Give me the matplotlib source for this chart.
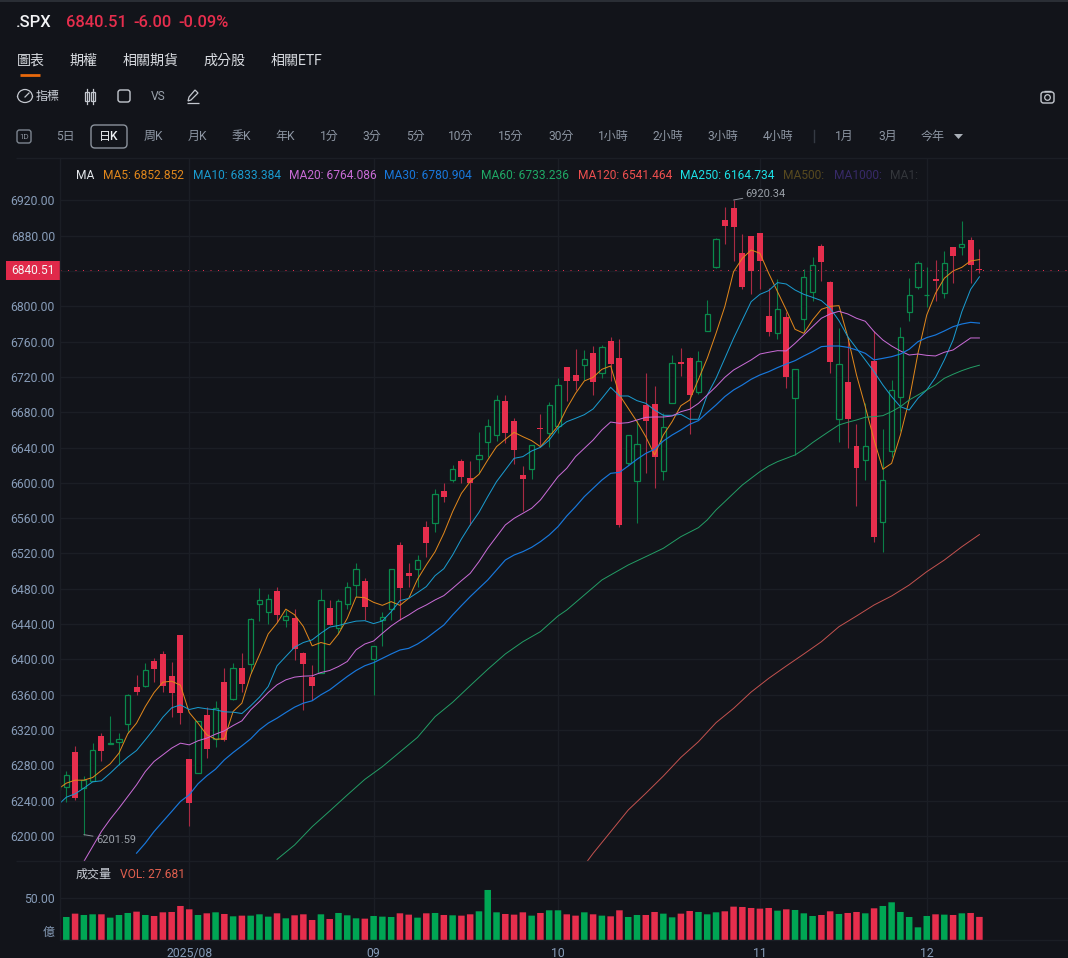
import numpy as np
import matplotlib
matplotlib.use('Agg')
import matplotlib.pyplot as plt
from matplotlib.patches import Rectangle, FancyBboxPatch, Circle, Arc, Polygon

plt.rcParams['font.family'] = ['Roboto', 'Noto Sans CJK TC', 'DejaVu Sans']

# candles, index -1 is the one cut off by the price axis
opens = [6252, 6255.4, 6295.4, 6253.9, 6262.9, 6313.1, 6304.1, 6306, 6327.1, 6369, 6369.4,
         6398.1, 6406.4, 6381.5, 6427.5, 6287.5, 6271.2, 6336.9, 6309.7, 6374.7, 6355,
         6390.2, 6395, 6462.3, 6453.6, 6477.4, 6444.9, 6446.4, 6406.8, 6380.7, 6385.2,
         6458.1, 6435.5, 6463, 6484.5, 6489.2, 6400.9, 6444.7, 6456.8, 6529.6, 6498.3,
         6502.8, 6550.4, 6554.2, 6590.8, 6602.9, 6624.4, 6605.1, 6626.7, 6646.7, 6654.2,
         6692.3, 6669.7, 6608.5, 6615.3, 6662, 6656.1, 6664.8, 6731.6, 6722.5, 6733.9,
         6746.7, 6724, 6761, 6741, 6622.1, 6602.5, 6688.2, 6689.3, 6613.5, 6690.1,
         6736.9, 6741.4, 6703.3, 6772, 6844.9, 6898.1, 6911.3, 6860.7, 6879.6, 6883,
         6789, 6769.4, 6787.9, 6696.1, 6785.2, 6815.8, 6868.3, 6827.1, 6672, 6713.9,
         6641.8, 6625.9, 6738, 6555.7, 6636.5, 6696.9, 6793.5, 6821.8, 6812.4, 6831.3,
         6815.4, 6866.8, 6866.8, 6875.4, 6841.5]
highs = [6262, 6273.9, 6302.2, 6268.2, 6305.2, 6316.2, 6336.5, 6316.5, 6360.7, 6381.9, 6396.2,
         6401.5, 6409.8, 6397.3, 6427.5, 6287.5, 6330.1, 6346.7, 6353.2, 6390.5, 6395.8,
         6407.5, 6446.4, 6480.8, 6474.3, 6481.9, 6455.5, 6457, 6408.3, 6393.9, 6479.6,
         6467.5, 6468.7, 6487.5, 6509, 6491.9, 6415.6, 6454, 6502, 6533, 6508.9,
         6518.7, 6556.4, 6593, 6600.2, 6620.2, 6627.4, 6624.8, 6657.2, 6672, 6699.5,
         6699.5, 6673, 6619.5, 6643.3, 6678, 6691.6, 6718.8, 6731.6, 6751.6, 6750.5,
         6755, 6756, 6765.2, 6763, 6654.6, 6671, 6724.8, 6709.7, 6678.8, 6744.8,
         6752.4, 6742, 6749.7, 6807.1, 6877.7, 6912, 6920.34, 6881.5, 6879.6, 6883,
         6820.3, 6830.5, 6793.9, 6729, 6841.9, 6855.4, 6870.5, 6828.6, 6775, 6765.6,
         6666.7, 6690.1, 6772, 6660.7, 6716.1, 6776.9, 6831.7, 6850.9, 6844.1, 6852.4,
         6863, 6866.8, 6896.2, 6878.8, 6865.3]
lows = [6248, 6238.4, 6241.4, 6201.59, 6261.8, 6284.5, 6304, 6280.7, 6316.5, 6360.3, 6368.3,
        6375, 6363.7, 6335.4, 6327.1, 6211.6, 6271.2, 6288.2, 6300.3, 6308, 6354,
        6363.4, 6384.5, 6444, 6440.4, 6441.9, 6437.3, 6399.6, 6343, 6354.3, 6384.5,
        6438.9, 6429, 6457, 6471.3, 6444.7, 6359.8, 6415.3, 6444.7, 6444.7, 6482.5,
        6482.5, 6515.7, 6544.7, 6578.3, 6601.4, 6599.5, 6552.3, 6610.8, 6629.7, 6647.8,
        6644.8, 6621.4, 6568.5, 6604, 6642.5, 6640.2, 6656, 6692.7, 6705, 6716.5,
        6699.5, 6718.4, 6715.7, 6550, 6620, 6554.9, 6611.6, 6593.8, 6603.2, 6690,
        6721.4, 6655.3, 6700.7, 6772, 6843.7, 6870.5, 6851.7, 6820, 6813.9, 6820,
        6766, 6763, 6707, 6631.6, 6771.3, 6806.4, 6829, 6724.1, 6646.7, 6639.1,
        6574.2, 6603.3, 6533.4, 6521.4, 6629.7, 6659, 6783.3, 6819.2, 6799.6, 6806.4,
        6809.8, 6826.8, 6858.5, 6826.8, 6838]
closes = [6260, 6268.6, 6243.3, 6263.7, 6297.3, 6296.5, 6305.6, 6309.7, 6359.6, 6363, 6388.6,
          6389.4, 6370.5, 6362.2, 6339.2, 6237.6, 6330.1, 6298.8, 6344.9, 6309, 6389.8,
          6372.4, 6446, 6466.8, 6468.3, 6449.8, 6449.4, 6411.7, 6395.4, 6369.8, 6466.8,
          6439.2, 6465.7, 6481.5, 6502.3, 6459.8, 6415.6, 6448.4, 6502, 6481.3, 6494.5,
          6512.3, 6531.5, 6587.4, 6584, 6615.3, 6606.3, 6600.2, 6631.9, 6664.4, 6693.5,
          6656.5, 6637.6, 6604.8, 6643.3, 6660.6, 6688.2, 6711.2, 6715, 6715.7, 6740.3,
          6714.2, 6754.2, 6735, 6551.9, 6654.6, 6644.4, 6670, 6628.9, 6663.7, 6735.4,
          6735, 6699.1, 6738.4, 6791.7, 6875.8, 6890.9, 6890.2, 6821.5, 6840, 6851.7,
          6771.3, 6796.6, 6720.3, 6729, 6832.8, 6846.8, 6850.5, 6737.3, 6734.3, 6672,
          6617.2, 6642.2, 6538.3, 6602.9, 6704.8, 6765.6, 6812.4, 6849.4, 6813.2, 6829,
          6849.4, 6857, 6870.5, 6846.51, 6840.51]
volumes = [27, 27.6, 31.6, 30, 30.8, 30.8, 26.8, 30, 32.4, 34, 30,
           28.8, 33.2, 33.6, 40.8, 36.8, 30, 32, 33.2, 31.2, 28.4,
           29.2, 29.2, 30.8, 28, 32, 26, 29.6, 30.8, 24, 30.8,
           25.2, 32.4, 29.6, 26, 25.6, 28.8, 28, 27.6, 32, 30.4,
           26.8, 32, 32.4, 30, 29.6, 29.2, 30.8, 34.4, 60, 33.2,
           31.2, 30.4, 33.2, 29.2, 32.4, 35.6, 35.6, 30.8, 29.2, 33.2,
           30.8, 29.2, 28.4, 35.6, 27.6, 30, 30, 33.6, 31.6, 27.2,
           31.6, 34.8, 33.6, 30.8, 33.2, 34.4, 40, 39.6, 38.4, 37.6,
           38.4, 35.2, 36.8, 36, 32, 28.8, 30, 34.4, 31.2, 32.4,
           33.6, 32, 38, 40.8, 45.2, 33.6, 27.6, 15.2, 28.8, 30.8,
           30.4, 30, 32, 32.4, 27.68]

# moving averages
ma5 = [6252.7, 6259.9, 6263.3, 6263.3, 6266.3, 6274.3, 6281.8, 6293.9, 6315.8, 6327.9, 6346.7,
       6362.6, 6374.3, 6375.4, 6370.9, 6339.9, 6327.9, 6314.7, 6309.7, 6310.1, 6341.1,
       6350.5, 6382.6, 6405.3, 6429, 6441.1, 6457, 6450.6, 6437.3, 6415.4, 6419.2,
       6416.6, 6429, 6446.6, 6470.7, 6470, 6464.7, 6461.3, 6465.5, 6461.3, 6469.2,
       6490.8, 6507, 6522, 6542.9, 6567.4, 6588.1, 6601.4, 6609.7, 6625.9, 6641,
       6649.3, 6657.2, 6652.3, 6647.8, 6641, 6652.3, 6664.4, 6684.4, 6701.4, 6715.4,
       6719.5, 6728.6, 6732.4, 6699.5, 6684.4, 6669.3, 6652.3, 6631.6, 6654.2, 6669.3,
       6687.4, 6693.8, 6717.3, 6741, 6769.4, 6799.6, 6839.2, 6854.3, 6863.7, 6860,
       6837.3, 6816.6, 6795.8, 6773.9, 6769.4, 6784.5, 6796.6, 6799.9, 6800.7, 6765.6,
       6722.2, 6686.3, 6648.6, 6615.4, 6622.1, 6654.2, 6693.9, 6746.7, 6790.1, 6814.7,
       6831.7, 6840, 6844.1, 6851.3, 6852.85]
ma10 = [6234.6, 6244, 6247.8, 6254.3, 6261.4, 6262.6, 6271.2, 6280.7, 6289.4, 6296.9, 6309,
        6321.4, 6334.7, 6345.2, 6348.6, 6343.3, 6345.6, 6344.1, 6343, 6340.7, 6340.3,
        6338.8, 6347.5, 6357.3, 6369.4, 6392.8, 6403.4, 6413.9, 6419.2, 6422.2, 6429.8,
        6436.6, 6438.5, 6441.1, 6443.4, 6443.9, 6440.6, 6443.6, 6454.1, 6466.6, 6469.2,
        6475.7, 6482.5, 6494.9, 6502.8, 6518.3, 6536.4, 6552.3, 6566.6, 6584.4, 6601.4,
        6614.6, 6627.8, 6629.7, 6636.1, 6640.2, 6648.5, 6661.8, 6669.3, 6673.1, 6677.2,
        6683.7, 6695.7, 6708.2, 6698.4, 6698.4, 6693.1, 6690.1, 6682.5, 6676.5, 6676.5,
        6677.6, 6672, 6672, 6699.5, 6718.4, 6741, 6763.7, 6784.5, 6805.2, 6813.5,
        6817.7, 6826.8, 6825.2, 6818.4, 6813.5, 6810.1, 6806.4, 6797.7, 6783.7, 6765.6,
        6752.4, 6739.2, 6725.9, 6710.9, 6697.7, 6686.3, 6682.5, 6695.8, 6705.2, 6719.5,
        6739.2, 6761.8, 6793.9, 6819.2, 6833.38]
ma20 = [6171.2, 6188.2, 6205.2, 6219.1, 6231.6, 6244.8, 6258, 6273.1,
        6284.5, 6292, 6299.6, 6305.2, 6303.3, 6307.9, 6310.9, 6315.4, 6319.2, 6325.2,
        6330.5, 6343, 6352.4, 6362.6, 6371.3, 6376.9, 6380, 6381.1, 6381.5, 6385.2,
        6387.5, 6392, 6397.7, 6410.9, 6417.5, 6420.9, 6429.6, 6437.9, 6444.7, 6450.4,
        6456.8, 6461.7, 6467.4, 6472.3, 6480.6, 6489.2, 6497.5, 6510.8, 6525.9, 6539.1,
        6552.3, 6559.8, 6565.5, 6571.2, 6580.6, 6593.8, 6607, 6616.5, 6629.7, 6639.1,
        6648.5, 6659.9, 6668.9, 6667.4, 6668.2, 6671.2, 6674.2, 6674.6, 6674.6, 6675.7,
        6680.6, 6683.3, 6690, 6699.5, 6709, 6719.5, 6727.8, 6733.5, 6739.2, 6745.9,
        6747.9, 6749.7, 6749.4, 6758, 6767.5, 6776.9, 6786.4, 6791.3, 6794.3, 6791.3,
        6786.4, 6783, 6771.3, 6761.8, 6755, 6749.4, 6744.8, 6745.9, 6744.4, 6743.7,
        6747.9, 6750.5, 6757.3, 6764.1, 6764.09]
ma30 = [6180.6, 6192, 6205.2, 6216.5, 6227.8, 6239.2, 6246.7, 6259.2, 6268.2, 6275.8,
        6286.3, 6294.6, 6302.2, 6310.1, 6320.3, 6327.9, 6333.5, 6339.9, 6346, 6350.5,
        6353.2, 6360, 6365.6, 6373.2, 6380.7, 6387.5, 6392.9, 6396.4, 6401.3, 6406.2,
        6410.7, 6412.6, 6417.5, 6423.9, 6431.5, 6439, 6450.4, 6460.9, 6471.1, 6480.6,
        6490, 6501.3, 6512.6, 6518.3, 6522.1, 6527, 6533.4, 6541, 6550.4, 6562.5,
        6573, 6584.4, 6593.8, 6603.2, 6610.8, 6611.9, 6619.1, 6626.7, 6633.4, 6638,
        6647.4, 6654.2, 6659.9, 6666.3, 6670.5, 6679.5, 6688.2, 6697.7, 6705.2, 6710.9,
        6717.3, 6722.2, 6725.9, 6730.5, 6734.6, 6738.4, 6743.7, 6748.6, 6754.3, 6755,
        6755, 6753.5, 6750.5, 6746.7, 6739.2, 6741, 6742.9, 6745.9, 6751.3, 6759.9,
        6764.5, 6767.5, 6772, 6776.9, 6779.9, 6781.8, 6780.9]
ma60_idx = [24, 26, 28, 30, 32, 34, 36, 38, 40, 42, 44, 46, 48, 50, 52, 54, 56, 57, 59, 61, 62,
            64, 66, 68, 70, 72, 73, 74, 75, 76, 77, 78, 79, 80, 81, 82, 83, 84, 85, 86, 87, 88,
            89, 90, 91, 92, 93, 94, 95, 96, 97, 98, 99, 100, 101, 102, 103, 104]
ma60 = [6173.6, 6189.9, 6210.6, 6228.4, 6246.5, 6264.2, 6278.6, 6295.2, 6311.8, 6335.2, 6351.5,
        6370.3, 6388.8, 6406.2, 6420.1, 6431.5, 6449.2, 6456, 6473, 6490, 6495.7,
        6507, 6516.4, 6525.9, 6539.1, 6549.3, 6558, 6569.3, 6578.7, 6588.2, 6597.6, 6605.2,
        6612.7, 6619.1, 6624, 6627.8, 6631.6, 6638, 6645.6, 6652.4, 6659.1, 6665.6,
        6668.6, 6671.2, 6674.3, 6675, 6676.1, 6680.7, 6686.3, 6693.9, 6699.5, 6705.2,
        6710.9, 6718.4, 6723, 6727.1, 6730.5, 6733.24]
ma120_idx = [59, 60, 62, 64, 66, 68, 70, 72, 74, 76, 78, 80, 82, 84, 86, 88, 90, 92, 94, 96, 98,
             100, 102, 104]
ma120 = [6167, 6180.4, 6204.9, 6229.5, 6248.4, 6268, 6289.1, 6306.9, 6328.4, 6344.6, 6363.1,
         6378.6, 6392.6, 6406.2, 6420.1, 6437.1, 6449.2, 6461.7, 6471.9, 6484.3, 6499.4,
         6512.6, 6527.7, 6541.46]

price_ticks = list(range(6200, 6921, 40))
date_idx = [14, 35, 56, 79, 98]
date_labels = ['2025/08', '09', '10', '11', '12']

BG = '#12141a'
GRID = '#1b1e25'
LABEL = '#879cb8'
RED = '#e62e4d'
GREEN = '#00a654'
GREEN_EDGE = '#0a8a4c'
RED_WICK = '#a92a43'
GREEN_WICK = '#0a7d47'
W, H = 1068, 958

# chart geometry in pixels
PX_STEP = 8.78
X_FIRST = 66.3
LEFT = 60
TOP = 158
SPLIT = 861
BOTTOM = 940
xlim = ((LEFT - X_FIRST) / PX_STEP, (W - X_FIRST) / PX_STEP)

fig = plt.figure(figsize=(W / 100, H / 100), dpi=100, facecolor=BG)


def make_axes(x0, y0, x1, y1):
    return fig.add_axes([x0 / W, 1 - y1 / H, (x1 - x0) / W, (y1 - y0) / H])


ax = make_axes(LEFT, TOP, W, SPLIT)
ax_vol = make_axes(LEFT, SPLIT, W, BOTTOM)

for a in (ax, ax_vol):
    a.set_facecolor(BG)
    a.set_xlim(*xlim)
    a.set_xticks(date_idx)
    a.set_axisbelow(True)
    a.grid(True, color=GRID, lw=1)
    for s in a.spines.values():
        s.set_visible(False)
    a.tick_params(length=0, labelsize=8.85, labelcolor=LABEL, pad=3.6)

idx = np.arange(-1, 105)
o, h, l, c = map(np.array, (opens, highs, lows, closes))
up = c >= o
top = np.maximum(o, c)
bot = np.minimum(o, c)

# price panel
ax.set_ylim(6920 - (SPLIT - 200.3) / 0.883, 6920 - (TOP - 200.3) / 0.883)
ax.set_yticks(price_ticks)
ax.set_yticklabels([f'{p:.2f}' for p in price_ticks])
ax.tick_params(axis='x', labelbottom=False)

ax.vlines(idx[up], bot[up], h[up], color=GREEN_WICK, lw=0.8, zorder=2)
ax.vlines(idx[up], l[up], bot[up], color=GREEN_WICK, lw=0.8, zorder=2)
ax.vlines(idx[~up], l[~up], h[~up], color=RED_WICK, lw=0.8, zorder=2)
ax.bar(idx[up], (top - bot)[up], bottom=bot[up], width=0.6, facecolor=BG,
       edgecolor=GREEN_EDGE, lw=0.9, zorder=3)
ax.bar(idx[~up], np.maximum((top - bot)[~up], 2), bottom=bot[~up], width=0.68,
       color=RED, lw=0, zorder=3)

ax.plot(idx, ma5, color='#e0871c', lw=0.72, zorder=4)
ax.plot(idx, ma10, color='#1a9bcf', lw=0.72, zorder=4)
ax.plot(np.arange(2, 105), ma20, color='#c96bd6', lw=0.72, zorder=4)
ax.plot(np.arange(8, 105), ma30, color='#1878dc', lw=0.85, zorder=4)
ax.plot(ma60_idx, ma60, color='#239e66', lw=0.7, zorder=4)
ax.plot(ma120_idx, ma120, color='#c4524f', lw=0.7, zorder=4)

ax.axhline(closes[-1], color=RED, lw=0.72, ls=(0, (1, 6.5)), zorder=4)

ax.annotate('6920.34', xy=(76, 6920.34), xytext=(8.6, 4.2), textcoords='offset points',
            color='#9aa0a8', fontsize=7.9, va='center',
            arrowprops=dict(arrowstyle='-', color='#8a8f98', lw=0.7, shrinkA=0, shrinkB=0))
ax.annotate('6201.59', xy=(2, 6201.59), xytext=(8.6, -3.8), textcoords='offset points',
            color='#9aa0a8', fontsize=7.9, va='center',
            arrowprops=dict(arrowstyle='-', color='#8a8f98', lw=0.7, shrinkA=0, shrinkB=0))

# volume panel
ax_vol.set_ylim(0, (BOTTOM - SPLIT) / 0.834)
ax_vol.set_yticks([50])
ax_vol.set_yticklabels(['50.00'])
ax_vol.set_xticklabels(date_labels)
ax_vol.tick_params(axis='x', pad=5)
vol_bars = ax_vol.bar(idx, volumes, width=0.74, color=[GREEN if u else RED for u in up], lw=0, zorder=3)
for b in vol_bars:
    b.set_snap(False)

# everything around the chart goes on one overlay in pixel coordinates
ui = fig.add_axes([0, 0, 1, 1], facecolor='none')
ui.set_xlim(0, W)
ui.set_ylim(H, 0)
ui.axis('off')


def label(x, y, s, color='#c9ced6', px=12, ha='left', **kw):
    ui.text(x, y, s, color=color, fontsize=px * 0.72, ha=ha, va='center', **kw)


def hline(x0, x1, y, color=GRID, lw=1):
    ui.plot([x0, x1], [y, y], color=color, lw=lw, solid_capstyle='butt')


def round_box(x, y, w, h, edge, lw=1, pad=2.5):
    ui.add_patch(FancyBboxPatch((x, y), w, h, boxstyle=f'round,pad=0,rounding_size={pad}',
                                fc='none', ec=edge, lw=lw))


hline(0, W, 1, '#2b2f36', 1.4)
hline(16, W, TOP)
hline(16, W, SPLIT)
hline(LEFT, W, BOTTOM)
ui.plot([LEFT, LEFT], [TOP, BOTTOM], color=GRID, lw=1)

# header
label(16, 22, '.SPX', '#f2f3f5', 16.5, fontweight='medium')
label(66, 22, '6840.51', RED, 16.5, fontweight='medium')
label(133, 22, '-6.00', RED, 16.5, fontweight='medium')
label(178, 22, '-0.09%', RED, 16.5, fontweight='medium')

tabs = [(17, '圖表'), (70, '期權'), (123, '相關期貨'), (203, '成分股'), (271, '相關ETF')]
for x, s in tabs:
    label(x, 61, s, '#d8dbe0', 14)
hline(20, 40, 75, '#e8690c', 2)

# tool row
ui.add_patch(Arc((25, 97), 15, 15, theta1=180, theta2=0, ec='#c4c8cf', lw=0.9))
ui.add_patch(Arc((25, 96), 15, 13, theta1=0, theta2=180, ec='#c4c8cf', lw=0.9))
ui.plot([25, 29], [97, 93], color='#c4c8cf', lw=0.9)
label(36, 96, '指標', '#c9ced6', 12)
for x in (87, 93):
    ui.add_patch(Rectangle((x - 2, 92), 4, 9, fc='none', ec='#c4c8cf', lw=0.9))
    ui.plot([x, x], [89, 104], color='#c4c8cf', lw=0.9, zorder=1)
round_box(118, 90, 12, 12, '#c4c8cf')
label(158, 96, 'VS', '#9aa2ac', 12, ha='center')
ui.add_patch(Polygon([[188, 101], [189, 97], [195, 90], [198, 93], [191, 100]], fc='none',
                     ec='#c4c8cf', lw=0.9))
hline(187, 199, 103, '#c4c8cf', 0.9)
round_box(1041, 92, 13, 11, '#c4c8cf')
ui.add_patch(Circle((1047.5, 97.5), 2.8, fc='none', ec='#c4c8cf', lw=0.9))
hline(1044, 1051, 90.5, '#c4c8cf', 1)

# period row
round_box(17, 130, 14, 13, '#7d8590')
label(24, 136.5, '1D', '#8b929c', 8, ha='center')
periods = [(65, '5日'), (153, '周K'), (197, '月K'), (241, '季K'), (285, '年K'), (329, '1分'),
           (372, '3分'), (415, '5分'), (461, '10分'), (511, '15分'), (561, '30分'),
           (613, '1小時'), (668, '2小時'), (723, '3小時'), (778, '4小時'), (844, '1月'),
           (888, '3月'), (933, '今年')]
for x, s in periods:
    label(x, 136.5, s, '#8d96a3', 12, ha='center')
round_box(91, 125, 36, 23, '#8b929c', pad=4)
label(109, 136.5, '日K', '#eef0f3', 12, ha='center', fontweight='medium')
ui.plot([814, 814], [130, 142], color='#353a43', lw=1)
ui.add_patch(Polygon([[954, 134], [963, 134], [958.5, 139]], fc='#aab0b8', ec='none'))

# moving average legend
ma_legend = [(76, 'MA', '#e4e7eb'), (103, 'MA5: 6852.852', '#e0871c'),
             (193, 'MA10: 6833.384', '#1a9bcf'), (289, 'MA20: 6764.086', '#c96bd6'),
             (384, 'MA30: 6780.904', '#1878dc'), (481, 'MA60: 6733.236', '#1fa866'),
             (578, 'MA120: 6541.464', '#ee4f4f'), (680, 'MA250: 6164.734', '#1ce0e6'),
             (783, 'MA500:', '#57491f'), (834, 'MA1000:', '#372a68'), (890, 'MA1:', '#33363b')]
for x, s, col in ma_legend:
    label(x, 175.5, s, col, 12)

label(76, 874, '成交量', '#c9ced6', 12)
label(120, 874, 'VOL: 27.681', '#e2604f', 12)
label(55, 932, '億', LABEL, 12, ha='right')

# last price tag
ui.add_patch(Rectangle((6, 261), 54, 19, fc='#e0294a', ec='none'))
label(33, 270.5, '6840.51', '#f5f5f5', 12, ha='center')

fig.savefig('out.png', dpi=100, facecolor=BG)
